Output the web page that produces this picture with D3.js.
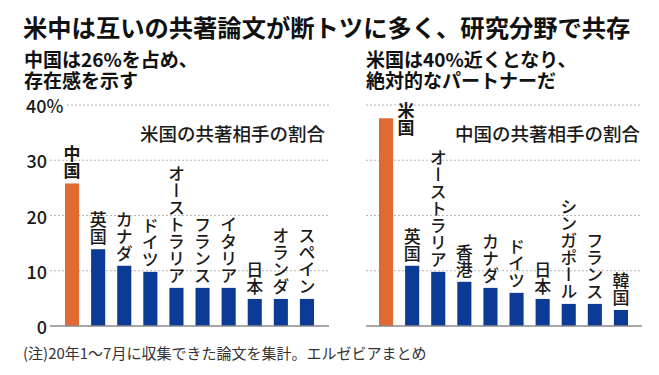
<!DOCTYPE html>
<html>
<head>
<meta charset="utf-8">
<script src="https://cdn.jsdelivr.net/npm/d3@7"></script>
<style>
  body { margin: 0; background: #fff; }
  svg text { font-family: "Noto Sans CJK JP", "Noto Sans", sans-serif; fill: #1a1a1a; }
  .vlabel { writing-mode: vertical-rl; }
</style>
</head>
<body>
<svg id="chart" width="659" height="375"></svg>
<script>
// 米国の共著相手の割合 (%)
const usPartners = ["中国", "英国", "カナダ", "ドイツ", "オーストラリア", "フランス", "イタリア", "日本", "オランダ", "スペイン"];
const usShares = [25.8, 13.9, 10.9, 9.8, 6.9, 6.9, 6.9, 4.9, 4.9, 4.9];

// 中国の共著相手の割合 (%)
const cnPartners = ["米国", "英国", "オーストラリア", "香港", "カナダ", "ドイツ", "日本", "シンガポール", "フランス", "韓国"];
const cnShares = [37.6, 10.9, 9.8, 8.0, 6.9, 6.0, 4.9, 4.0, 4.0, 2.9];

const yTicks = [0, 10, 20, 30, 40];
const yTickLabels = ["0", "10", "20", "30", "40%"];

const orange = "#e06a33",
      blue = "#0c3b97";

const svg = d3.select("#chart");

// y scale shared by both panels
const y = d3.scaleLinear().domain([0, 40]).range([326, 105]);

// title
svg.append("text")
  .attr("x", 23).attr("y", 26)
  .attr("dominant-baseline", "central")
  .style("font-size", "24.3px").style("font-weight", 700).style("fill", "#111")
  .text("米中は互いの共著論文が断トツに多く、研究分野で共存");

// subtitles, two lines each in one text element
const subs = [
  {x: 24, lines: ["中国は26%を占め、", "存在感を示す"]},
  {x: 366, lines: ["米国は40%近くとなり、", "絶対的なパートナーだ"]}
];
subs.forEach(s => {
  let t = svg.append("text")
    .attr("dominant-baseline", "central")
    .style("font-size", "19px").style("font-weight", 700);
  s.lines.forEach((line, i) => {
    t.append("tspan")
      .attr("x", s.x).attr("y", 58 + i * 21)
      .style("fill", "#111")
      .text(line);
  });
});

// y axis labels (left panel only)
yTicks.forEach((v, i) => {
  svg.append("text")
    .attr("x", i === 4 ? 26 : 47).attr("y", y(v))
    .attr("text-anchor", i === 4 ? "start" : "end")
    .attr("dominant-baseline", "central")
    .style("font-size", "18px").style("font-weight", 500)
    .text(yTickLabels[i]);
});

const drawPanel = (cfg) => {
  let g = svg.append("g");

  // gridlines
  yTicks.filter(v => v > 0).forEach(v => {
    g.append("line")
      .attr("x1", v === 40 ? cfg.gridStart40 : cfg.gridStart).attr("x2", cfg.gridEnd)
      .attr("y1", y(v)).attr("y2", y(v))
      .attr("stroke", "#b5b5b5").attr("stroke-width", 1)
      .attr("stroke-dasharray", "2,2");
  });

  let x = d3.scaleBand()
    .domain(cfg.names)
    .range(cfg.range)
    .paddingInner(0.46)
    .paddingOuter(0.23);

  g.selectAll("rect.bar")
    .data(cfg.values)
    .enter()
    .append("rect")
    .attr("class", "bar")
    .attr("x", (d, i) => x(cfg.names[i]))
    .attr("width", x.bandwidth())
    .attr("y", d => y(d))
    .attr("height", d => y(0) - y(d))
    .attr("fill", (d, i) => i === 0 ? orange : blue);

  // baseline
  g.append("line")
    .attr("x1", cfg.gridStart).attr("x2", cfg.gridEnd)
    .attr("y1", y(0)).attr("y2", y(0))
    .attr("stroke", "#8a8a8a").attr("stroke-width", 1.5);

  // vertical category labels
  cfg.names.forEach((name, i) => {
    let cx = x(name) + x.bandwidth() / 2,
        t = g.append("text").attr("class", "vlabel")
          .style("font-size", "17px");
    if (i === 0 && cfg.firstBeside) {
      t.attr("x", cx + 20).attr("y", 102).attr("text-anchor", "start")
        .style("font-weight", 700);
    } else {
      t.attr("x", cx).attr("y", y(cfg.values[i]) - 4).attr("text-anchor", "end")
        .style("font-weight", i === 0 ? 700 : 500);
    }
    t.text(name);
  });

  // panel title
  g.append("text")
    .attr("x", cfg.titleRight).attr("y", 133)
    .attr("text-anchor", "end")
    .attr("dominant-baseline", "central")
    .style("font-size", "18.5px").style("font-weight", 500)
    .text(cfg.title);
};

drawPanel({
  names: usPartners, values: usShares, range: [59, 320],
  gridStart: 50, gridStart40: 67, gridEnd: 329,
  title: "米国の共著相手の割合", titleRight: 325, firstBeside: false
});

drawPanel({
  names: cnPartners, values: cnShares, range: [373, 634],
  gridStart: 366, gridStart40: 366, gridEnd: 642,
  title: "中国の共著相手の割合", titleRight: 640, firstBeside: true
});

// footnote
svg.append("text")
  .attr("x", 23).attr("y", 352)
  .attr("dominant-baseline", "central")
  .style("font-size", "15px").style("fill", "#333")
  .text("(注)20年1～7月に収集できた論文を集計。エルゼビアまとめ");
</script>
</body>
</html>
